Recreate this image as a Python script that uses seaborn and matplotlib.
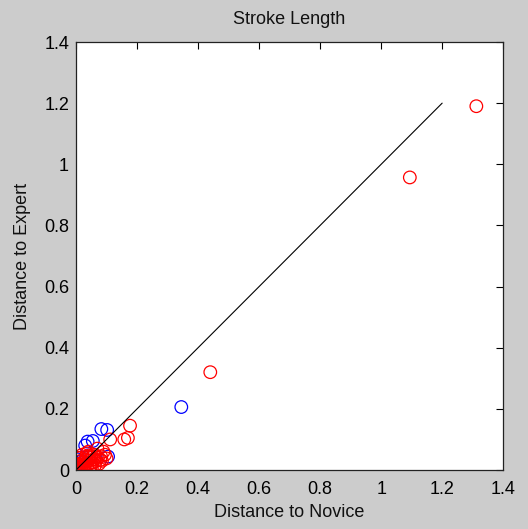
import matplotlib
matplotlib.use("Agg")
import matplotlib.pyplot as plt
import seaborn as sns

# Distances for the red group (x: to novice, y: to expert)
red_x = [1.312, 1.094, 0.44, 0.177, 0.158, 0.170, 0.112, 0.095, 0.100, 0.080, 0.070,
         0.010, 0.020, 0.030, 0.015, 0.040, 0.050, 0.025, 0.035, 0.060, 0.045,
         0.005, 0.055, 0.065, 0.020, 0.040, 0.030, 0.012, 0.050, 0.008, 0.035,
         0.018, 0.028, 0.038, 0.048, 0.058, 0.068, 0.022, 0.032, 0.042, 0.052,
         0.062, 0.075, 0.085, 0.090, 0.015, 0.025, 0.045, 0.005, 0.072, 0.082]
red_y = [1.190, 0.957, 0.32, 0.145, 0.100, 0.105, 0.100, 0.050, 0.038, 0.033, 0.070,
         0.010, 0.015, 0.020, 0.030, 0.030, 0.040, 0.005, 0.045, 0.050, 0.010,
         0.020, 0.025, 0.030, 0.050, 0.060, 0.000, 0.002, 0.015, 0.040, 0.055,
         0.008, 0.012, 0.018, 0.022, 0.035, 0.045, 0.025, 0.035, 0.042, 0.005,
         0.015, 0.020, 0.030, 0.060, 0.040, 0.028, 0.048, 0.005, 0.040, 0.045]

# Distances for the blue group
blue_x = [0.345, 0.083, 0.102, 0.038, 0.055, 0.030, 0.105, 0.004, 0.000, 0.010, 0.020]
blue_y = [0.206, 0.134, 0.131, 0.093, 0.095, 0.080, 0.044, 0.035, 0.010, 0.020, 0.030]

# Reference diagonal
diag_x = [0.0, 1.2]
diag_y = [0.0, 1.2]

ticks = [0, 0.2, 0.4, 0.6, 0.8, 1, 1.2, 1.4]
tick_labels = ["0", "0.2", "0.4", "0.6", "0.8", "1", "1.2", "1.4"]

sns.set_style("white")
plt.rcParams["font.family"] = ["Liberation Sans", "DejaVu Sans"]

fig = plt.figure(figsize=(5.28, 5.29), dpi=100, facecolor="#cccccc")
ax = fig.add_axes([0.144, 0.1115, 0.809, 0.8091])
ax.set_facecolor("white")

sns.lineplot(x=diag_x, y=diag_y, color="black", linewidth=0.8, ax=ax)
sns.scatterplot(x=blue_x, y=blue_y, marker="o", s=82, facecolor="none",
                edgecolor="#0000ff", linewidth=0.9, ax=ax)
sns.scatterplot(x=red_x, y=red_y, marker="o", s=82, facecolor="none",
                edgecolor="#ff0000", linewidth=0.9, ax=ax)

ax.set_xlim(0, 1.4)
ax.set_ylim(0, 1.4)
ax.set_xticks(ticks)
ax.set_yticks(ticks)
ax.set_xticklabels(tick_labels)
ax.set_yticklabels(tick_labels)
ax.tick_params(direction="in", length=5, width=0.8, top=True, right=True,
               labelsize=13, colors="black")
ax.tick_params(axis="x", pad=8)
ax.tick_params(axis="y", pad=5)
for sp in ax.spines.values():
    sp.set_visible(True)
    sp.set_color("#222222")
    sp.set_linewidth(0.9)

ax.set_title("Stroke Length", fontsize=13, color="#111111", pad=13)
ax.set_xlabel("Distance to Novice", fontsize=13, color="#111111", labelpad=4)
ax.set_ylabel("Distance to Expert", fontsize=13, color="#111111", labelpad=9)

fig.savefig("out.png", dpi=100, facecolor=fig.get_facecolor())
